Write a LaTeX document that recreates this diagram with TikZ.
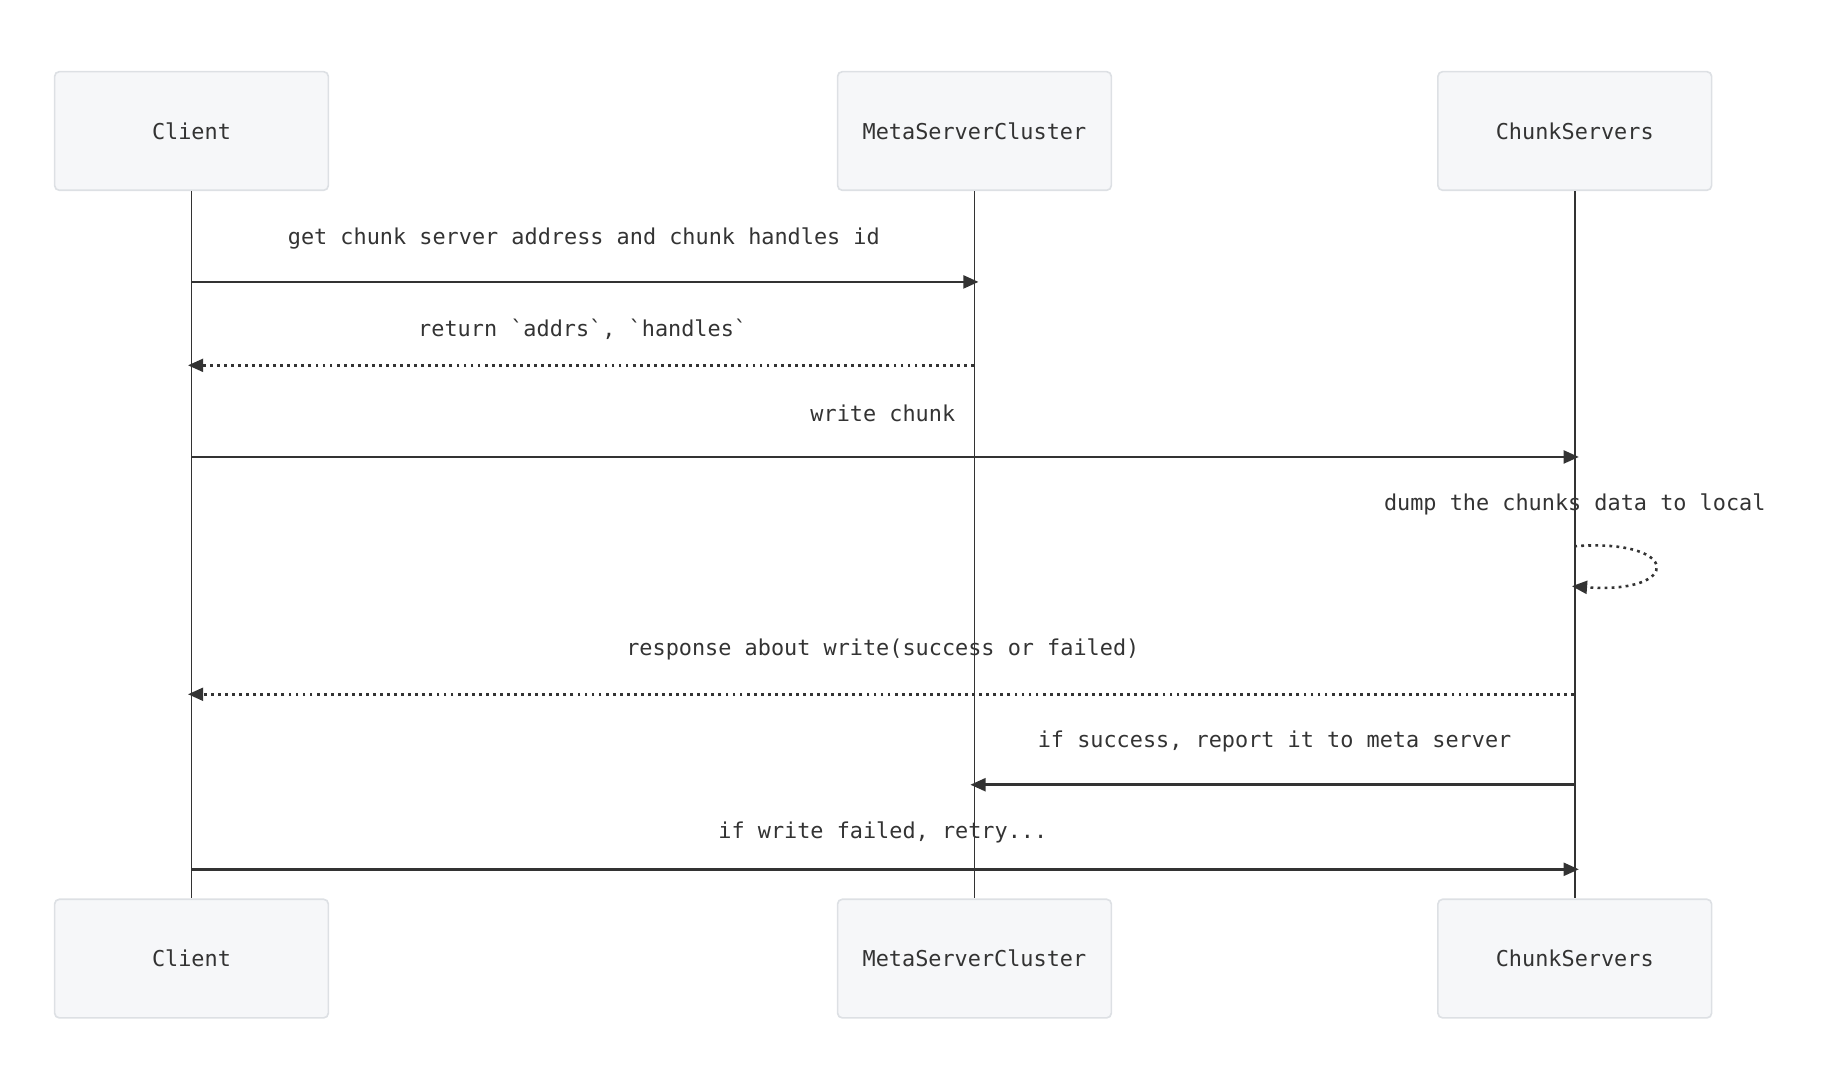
\documentclass[tikz,border=0pt]{standalone}
\usepackage{fontspec}
\setmonofont{DejaVu Sans Mono}
\usetikzlibrary{arrows.meta}
\definecolor{boxfill}{HTML}{F6F7F9}
\definecolor{boxline}{HTML}{DDE0E4}
\definecolor{ink}{HTML}{333333}
\begin{document}
\begin{tikzpicture}[x=0.5pt,y=-0.5pt,
  actor/.style={draw=boxline,fill=boxfill,line width=0.7pt,rounded corners=2pt,
    minimum width=116.5pt,minimum height=50.5pt,inner sep=0pt,
    font=\ttfamily\fontsize{9.3}{11}\selectfont,text=ink},
  lifeline/.style={draw=ink,line width=0.8pt},
  msg/.style={draw=ink,line width=1.1pt,-{Triangle[length=6.5pt,width=5.5pt]}},
  reply/.style={msg,dash pattern=on 1.2pt off 1.8pt},
  lbl/.style={font=\ttfamily\fontsize{9.3}{11}\selectfont,text=ink,inner sep=0pt}]
\useasboundingbox (0,0) rectangle (1568,913);
% actors
\node[actor] (c1) at (163,111.5) {Client};
\node[actor] (m1) at (829.5,111.5) {MetaServerCluster};
\node[actor] (s1) at (1340.5,111.5) {ChunkServers};
\node[actor] (c2) at (163,816) {Client};
\node[actor] (m2) at (829.5,816) {MetaServerCluster};
\node[actor] (s2) at (1340.5,816) {ChunkServers};
% lifelines
\draw[lifeline] (c1.south) -- (c2.north);
\draw[lifeline] (m1.south) -- (m2.north);
\draw[lifeline] (s1.south) -- (s2.north);
% message anchor points
\coordinate (a1) at (163,240); \coordinate (b1) at (833,240);
\coordinate (a2) at (829,311); \coordinate (b2) at (160,311);
\coordinate (a3) at (163,389); \coordinate (b3) at (1344,389);
\coordinate (l1) at (1340,465); \coordinate (l2) at (1338,499);
\coordinate (a5) at (1340,591); \coordinate (b5) at (160,591);
\coordinate (a6) at (1340,668); \coordinate (b6) at (826,668);
\coordinate (a7) at (163,740); \coordinate (b7) at (1344,740);
% messages
\node[lbl] (t1) at (497,203) {get chunk server address and chunk handles id};
\draw[msg] (a1) -- (b1);
\node[lbl] (t2) at (496,280) {return `addrs`, `handles`};
\draw[reply] (a2) -- (b2);
\node[lbl] (t3) at (751.5,352) {write chunk};
\draw[msg] (a3) -- (b3);
\node[lbl] (t4) at (1340.5,429) {dump the chunks data to local};
\draw[reply] (l1) .. controls (1432,458) and (1432,506) .. (l2);
\node[lbl] (t5) at (751.5,553) {response about write(success or failed)};
\draw[reply] (a5) -- (b5);
\node[lbl] (t6) at (1085,631) {if success, report it to meta server};
\draw[msg] (a6) -- (b6);
\node[lbl] (t7) at (751.5,709) {if write failed, retry...};
\draw[msg] (a7) -- (b7);
\end{tikzpicture}
\end{document}
